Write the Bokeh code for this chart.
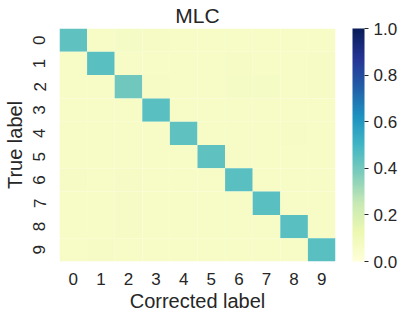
import numpy as np
from bokeh.plotting import figure
from bokeh.models import (LinearColorMapper, ColorBar, ColumnDataSource,
                          FixedTicker, PrintfTickFormatter)
from bokeh.embed import file_html
from bokeh.resources import INLINE

# ---- data ----
labels = ["0", "1", "2", "3", "4", "5", "6", "7", "8", "9"]
chart_title = "MLC"
x_title = "Corrected label"
y_title = "True label"
row0 = [0.44, 0.06, 0.07, 0.065, 0.06, 0.06, 0.06, 0.06, 0.06, 0.06]
row1 = [0.06, 0.45, 0.06, 0.06, 0.06, 0.06, 0.065, 0.06, 0.06, 0.065]
row2 = [0.06, 0.06, 0.41, 0.065, 0.06, 0.06, 0.07, 0.07, 0.06, 0.065]
row3 = [0.06, 0.06, 0.06, 0.45, 0.06, 0.06, 0.06, 0.06, 0.06, 0.06]
row4 = [0.06, 0.06, 0.06, 0.06, 0.44, 0.06, 0.06, 0.06, 0.065, 0.06]
row5 = [0.06, 0.06, 0.06, 0.06, 0.06, 0.44, 0.06, 0.06, 0.06, 0.06]
row6 = [0.065, 0.06, 0.065, 0.06, 0.06, 0.06, 0.45, 0.06, 0.06, 0.06]
row7 = [0.06, 0.06, 0.065, 0.06, 0.06, 0.06, 0.06, 0.45, 0.06, 0.06]
row8 = [0.06, 0.06, 0.065, 0.06, 0.06, 0.06, 0.06, 0.06, 0.45, 0.06]
row9 = [0.06, 0.065, 0.06, 0.06, 0.06, 0.06, 0.06, 0.06, 0.06, 0.45]
rows = [row0, row1, row2, row3, row4, row5, row6, row7, row8, row9]
cbar_ticks = [0.0, 0.2, 0.4, 0.6, 0.8, 1.0]

# ---- YlGnBu palette (matplotlib anchors, linearly blended) ----
anchors = ["#ffffd9", "#edf8b1", "#c7e9b4", "#7fcdbb", "#41b6c4",
           "#1d91c0", "#225ea8", "#253494", "#081d58"]
anc = np.array([[int(h[i:i + 2], 16) for i in (1, 3, 5)] for h in anchors], float)
pos = np.linspace(0, 1, len(anchors))
t = np.linspace(0, 1, 256)
palette = []
for tv in t:
    rgb = [np.interp(tv, pos, anc[:, k]) for k in range(3)]
    palette.append("#%02x%02x%02x" % tuple(int(round(c)) for c in rgb))

xs, ys, vals = [], [], []
for i, r in enumerate(rows):
    for j, v in enumerate(r):
        xs.append(labels[j])
        ys.append(labels[i])
        vals.append(v)
src = ColumnDataSource(dict(x=xs, y=ys, v=vals))

mapper = LinearColorMapper(palette=palette, low=0.0, high=1.0)

TXT = "#262626"
FONT = "Liberation Sans"

W, H = 407, 319
p = figure(width=W, height=H, x_range=labels, y_range=list(reversed(labels)),
           output_backend="svg", toolbar_location=None,
           min_border_left=57, min_border_right=W - 335, min_border_top=28,
           min_border_bottom=H - 261)
p.rect(x="x", y="y", width=1, height=1, source=src,
       fill_color={"field": "v", "transform": mapper}, line_color=None)

p.title.text = chart_title
p.title.align = "center"
p.title.text_font = FONT
p.title.text_font_size = "21px"
p.title.text_font_style = "normal"
p.title.text_color = TXT
p.title.standoff = 3

for ax in (p.xaxis[0], p.yaxis[0]):
    ax.axis_line_color = None
    ax.major_tick_line_color = None
    ax.minor_tick_line_color = None
    ax.major_label_text_font = FONT
    ax.major_label_text_font_size = "17px"
    ax.major_label_text_color = TXT
    ax.axis_label_text_font = FONT
    ax.axis_label_text_font_size = "20px"
    ax.axis_label_text_font_style = "normal"
    ax.axis_label_text_color = TXT
p.xaxis.axis_label = x_title
p.yaxis.axis_label = y_title
p.yaxis.major_label_orientation = "vertical"
p.xaxis.major_label_standoff = 5
p.xaxis.axis_label_standoff = 2
p.yaxis.major_label_standoff = 8
p.yaxis.axis_label_standoff = 5

p.grid.grid_line_color = None
p.outline_line_color = None
p.background_fill_color = "white"
p.border_fill_color = "white"

cb = ColorBar(color_mapper=mapper, ticker=FixedTicker(ticks=cbar_ticks),
              formatter=PrintfTickFormatter(format="%.1f"),
              width=12, height=233, padding=0, margin=0,
              location=(17, 0), bar_line_color=None,
              major_tick_in=0, major_tick_out=4,
              major_tick_line_color=TXT,
              major_label_text_font=FONT, major_label_text_font_size="17px",
              major_label_text_color=TXT, label_standoff=5,
              background_fill_color=None, border_line_color=None)
p.add_layout(cb, "right")

open("out.html", "w").write(file_html(p, INLINE))
